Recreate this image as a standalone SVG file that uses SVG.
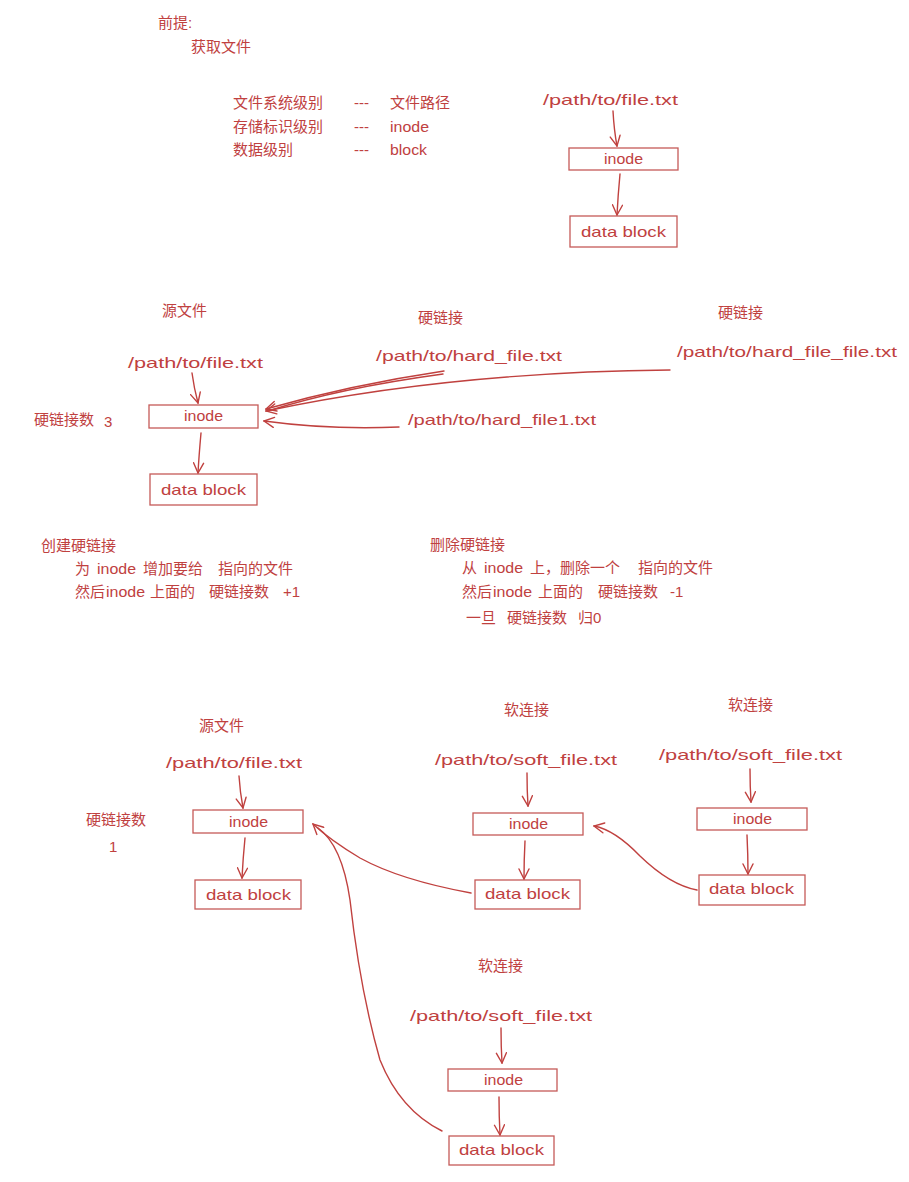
<svg xmlns="http://www.w3.org/2000/svg" width="909" height="1182" viewBox="0 0 909 1182">
<style>
text{font-family:"Liberation Sans","Noto Sans CJK SC",sans-serif;font-size:15px;fill:#c0413f}
.m{text-anchor:middle}
.box{fill:#fff;stroke:#c55a58;stroke-width:1.3}
.c{fill:none;stroke:#c0413f;stroke-width:1.4;stroke-linecap:round}
</style>
<defs>
<marker id="ah" viewBox="0 0 12 12" refX="11" refY="6" markerWidth="12" markerHeight="12" markerUnits="userSpaceOnUse" orient="auto">
<path d="M1,1 L11,6 L1,11" fill="none" stroke="#c0413f" stroke-width="1.4" stroke-linecap="round"/>
</marker>
</defs>
<rect width="909" height="1182" fill="#fff"/>

<g id="intro">
<text x="158" y="28">前提:</text>
<text x="191" y="52">获取文件</text>
<text x="233" y="108">文件系统级别</text>
<text x="354" y="108">---</text>
<text x="390" y="108">文件路径</text>
<text x="233" y="132">存储标识级别</text>
<text x="354" y="132">---</text>
<text x="390" y="132" textLength="39" lengthAdjust="spacingAndGlyphs">inode</text>
<text x="233" y="155">数据级别</text>
<text x="354" y="155">---</text>
<text x="390" y="155" textLength="37" lengthAdjust="spacingAndGlyphs">block</text>
</g>

<g id="connectors">
<path class="c" marker-end="url(#ah)" d="M613,111 Q614,130 617,146"/>
<path class="c" marker-end="url(#ah)" d="M620,174 Q618,195 617,215"/>
<path class="c" marker-end="url(#ah)" d="M192,373 Q194,388 198,403"/>
<path class="c" marker-end="url(#ah)" d="M201,433 Q199,455 198,473"/>
<path class="c" marker-end="url(#ah)" d="M444,371 Q350,385 266,409"/>
<path class="c" d="M443,374 Q340,388 268,411"/>
<path class="c" marker-end="url(#ah)" d="M670,370 Q450,372 266,411"/>
<path class="c" marker-end="url(#ah)" d="M399,427 Q330,430 264,421"/>
<path class="c" marker-end="url(#ah)" d="M239,776 Q240,792 243,808"/>
<path class="c" marker-end="url(#ah)" d="M245,838 Q243,858 242,878"/>
<path class="c" marker-end="url(#ah)" d="M527,773 Q527,790 528,806"/>
<path class="c" marker-end="url(#ah)" d="M525,841 Q524,860 524,879"/>
<path class="c" marker-end="url(#ah)" d="M750,769 Q750,786 751,802"/>
<path class="c" marker-end="url(#ah)" d="M747,835 Q748,855 748,874"/>
<path class="c" marker-end="url(#ah)" d="M501,1028 Q501,1046 502,1063"/>
<path class="c" marker-end="url(#ah)" d="M499,1097 Q499,1116 500,1135"/>
<path class="c" marker-end="url(#ah)" d="M471,893 Q400,880 360,858 Q330,840 313,824"/>
<path class="c" marker-end="url(#ah)" d="M697,890 Q670,885 640,856 Q615,830 594,826"/>
<path class="c" d="M442,1131 Q400,1110 380,1060 Q360,990 350,900 Q342,845 318,828"/>
</g>

<g id="top-path"><text x="543" y="105" textLength="135" lengthAdjust="spacingAndGlyphs">/path/to/file.txt</text></g>
<g id="top-inode"><rect class="box" x="569" y="148" width="109" height="22"/><text x="604" y="164" textLength="39" lengthAdjust="spacingAndGlyphs">inode</text></g>
<g id="top-block"><rect class="box" x="570" y="216" width="107" height="31"/><text x="581" y="237" textLength="85" lengthAdjust="spacingAndGlyphs">data block</text></g>

<g id="hard-src-label"><text x="162" y="316">源文件</text></g>
<g id="hard-src-path"><text x="128" y="368" textLength="135" lengthAdjust="spacingAndGlyphs">/path/to/file.txt</text></g>
<g id="hard-inode"><rect class="box" x="149" y="405" width="109" height="23"/><text x="184" y="421" textLength="39" lengthAdjust="spacingAndGlyphs">inode</text></g>
<g id="hard-count"><text x="34" y="425">硬链接数</text><text x="104" y="427">3</text></g>
<g id="hard-block"><rect class="box" x="150" y="474" width="107" height="31"/><text x="161" y="495" textLength="85" lengthAdjust="spacingAndGlyphs">data block</text></g>
<g id="hard1-label"><text x="418" y="323">硬链接</text></g>
<g id="hard1-path"><text x="376" y="361" textLength="186" lengthAdjust="spacingAndGlyphs">/path/to/hard_file.txt</text></g>
<g id="hard2-label"><text x="718" y="318">硬链接</text></g>
<g id="hard2-path"><text x="677" y="357" textLength="220" lengthAdjust="spacingAndGlyphs">/path/to/hard_file_file.txt</text></g>
<g id="hard3-path"><text x="408" y="425" textLength="188" lengthAdjust="spacingAndGlyphs">/path/to/hard_file1.txt</text></g>

<g id="create-note">
<text x="41" y="551">创建硬链接</text>
<text y="574"><tspan x="75">为</tspan><tspan x="97" textLength="39" lengthAdjust="spacingAndGlyphs">inode</tspan><tspan x="143">增加要给</tspan><tspan x="218">指向的文件</tspan></text>
<text y="597"><tspan x="75">然后</tspan><tspan x="106" textLength="39" lengthAdjust="spacingAndGlyphs">inode</tspan><tspan x="150">上面的</tspan><tspan x="209">硬链接数</tspan><tspan x="283">+1</tspan></text>
</g>
<g id="delete-note">
<text x="430" y="550">删除硬链接</text>
<text y="573"><tspan x="462">从</tspan><tspan x="484" textLength="39" lengthAdjust="spacingAndGlyphs">inode</tspan><tspan x="530">上，删除一个</tspan><tspan x="638">指向的文件</tspan></text>
<text y="597"><tspan x="462">然后</tspan><tspan x="493" textLength="39" lengthAdjust="spacingAndGlyphs">inode</tspan><tspan x="538">上面的</tspan><tspan x="598">硬链接数</tspan><tspan x="670">-1</tspan></text>
<text y="623"><tspan x="466">一旦</tspan><tspan x="507">硬链接数</tspan><tspan x="578">归0</tspan></text>
</g>

<g id="soft-src-label"><text x="199" y="731">源文件</text></g>
<g id="soft-src-path"><text x="166" y="768" textLength="136" lengthAdjust="spacingAndGlyphs">/path/to/file.txt</text></g>
<g id="soft-src-inode"><rect class="box" x="193" y="810" width="110" height="23"/><text x="229" y="827" textLength="39" lengthAdjust="spacingAndGlyphs">inode</text></g>
<g id="soft-src-count"><text x="86" y="825">硬链接数</text><text x="109" y="852">1</text></g>
<g id="soft-src-block"><rect class="box" x="195" y="880" width="106" height="29"/><text x="206" y="900" textLength="85" lengthAdjust="spacingAndGlyphs">data block</text></g>

<g id="soft1-label"><text x="504" y="715">软连接</text></g>
<g id="soft1-path"><text x="435" y="765" textLength="182" lengthAdjust="spacingAndGlyphs">/path/to/soft_file.txt</text></g>
<g id="soft1-inode"><rect class="box" x="473" y="813" width="110" height="22"/><text x="509" y="829" textLength="39" lengthAdjust="spacingAndGlyphs">inode</text></g>
<g id="soft1-block"><rect class="box" x="475" y="880" width="105" height="29"/><text x="485" y="899" textLength="85" lengthAdjust="spacingAndGlyphs">data block</text></g>

<g id="soft2-label"><text x="728" y="710">软连接</text></g>
<g id="soft2-path"><text x="659" y="760" textLength="183" lengthAdjust="spacingAndGlyphs">/path/to/soft_file.txt</text></g>
<g id="soft2-inode"><rect class="box" x="697" y="808" width="110" height="22"/><text x="733" y="824" textLength="39" lengthAdjust="spacingAndGlyphs">inode</text></g>
<g id="soft2-block"><rect class="box" x="699" y="875" width="106" height="30"/><text x="709" y="894" textLength="85" lengthAdjust="spacingAndGlyphs">data block</text></g>

<g id="soft3-label"><text x="478" y="971">软连接</text></g>
<g id="soft3-path"><text x="410" y="1021" textLength="182" lengthAdjust="spacingAndGlyphs">/path/to/soft_file.txt</text></g>
<g id="soft3-inode"><rect class="box" x="448" y="1069" width="109" height="22"/><text x="484" y="1085" textLength="39" lengthAdjust="spacingAndGlyphs">inode</text></g>
<g id="soft3-block"><rect class="box" x="449" y="1136" width="105" height="29"/><text x="459" y="1155" textLength="85" lengthAdjust="spacingAndGlyphs">data block</text></g>
</svg>
